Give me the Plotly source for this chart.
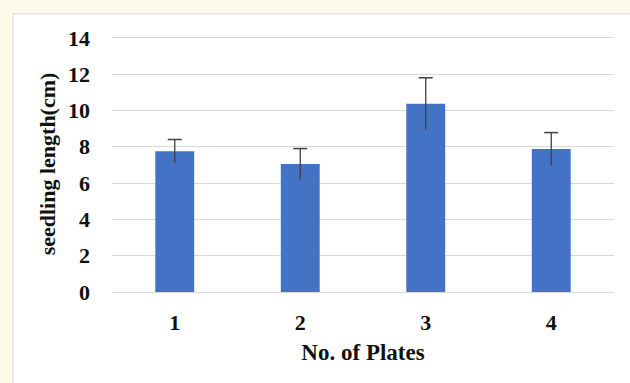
import plotly.graph_objects as go

plates = ["1", "2", "3", "4"]
seedling_length = [7.75, 7.05, 10.37, 7.88]
error = [0.65, 0.85, 1.43, 0.9]
y_ticks = [0, 2, 4, 6, 8, 10, 12, 14]

font_family = "Liberation Serif, Times New Roman, serif"
cap_y = [v + e for v, e in zip(seedling_length, error)]

fig = go.Figure()
fig.add_trace(go.Bar(
    x=plates, y=seedling_length, marker=dict(color="#4472C4", line=dict(width=0)),
    width=0.31, showlegend=False,
))
fig.add_trace(go.Scatter(
    x=plates, y=seedling_length, mode="markers", marker=dict(size=0.1, opacity=0),
    error_y=dict(type="data", array=error, visible=True, color="#404040", thickness=1.3, width=0),
    showlegend=False,
))
fig.add_trace(go.Scatter(
    x=plates, y=cap_y, mode="markers",
    marker=dict(symbol="line-ew", size=10, line=dict(color="#404040", width=1.5)),
    showlegend=False,
))

# white panel on cream background
fig.add_shape(type="rect", xref="paper", yref="paper",
              x0=-0.197, x1=1.2, y0=-0.5, y1=1.087,
              fillcolor="white", line=dict(color="#e4e4e4", width=1.5), layer="below")

fig.update_layout(
    width=630, height=383,
    margin=dict(l=112, r=16, t=36, b=91, autoexpand=False),
    paper_bgcolor="#fffbea", plot_bgcolor="rgba(0,0,0,0)",
    font=dict(family=font_family, size=22, color="#111111"),
)
fig.update_xaxes(
    range=[-0.5, 3.5], showgrid=False, zeroline=False, showline=False, automargin=False,
    tickfont=dict(family=font_family, size=22, color="#111111", weight="bold"),
    ticks="", ticklabelstandoff=15,
    title=dict(text="<b>No. of Plates</b>", font=dict(size=23), standoff=9),
)
fig.update_yaxes(
    range=[0, 14.1], tickvals=y_ticks, showgrid=True, gridcolor="#d9d9d9", gridwidth=1,
    zeroline=True, zerolinecolor="#d9d9d9", zerolinewidth=1, showline=False, automargin=False,
    tickfont=dict(family=font_family, size=22, color="#111111", weight="bold"),
    ticks="", ticklabelstandoff=21,
    title=dict(text="<b>seedling length(cm)</b>", font=dict(size=22), standoff=6),
)

fig.write_html("out.html", config={"displayModeBar": False},
               post_script="document.body.style.margin='0';")
